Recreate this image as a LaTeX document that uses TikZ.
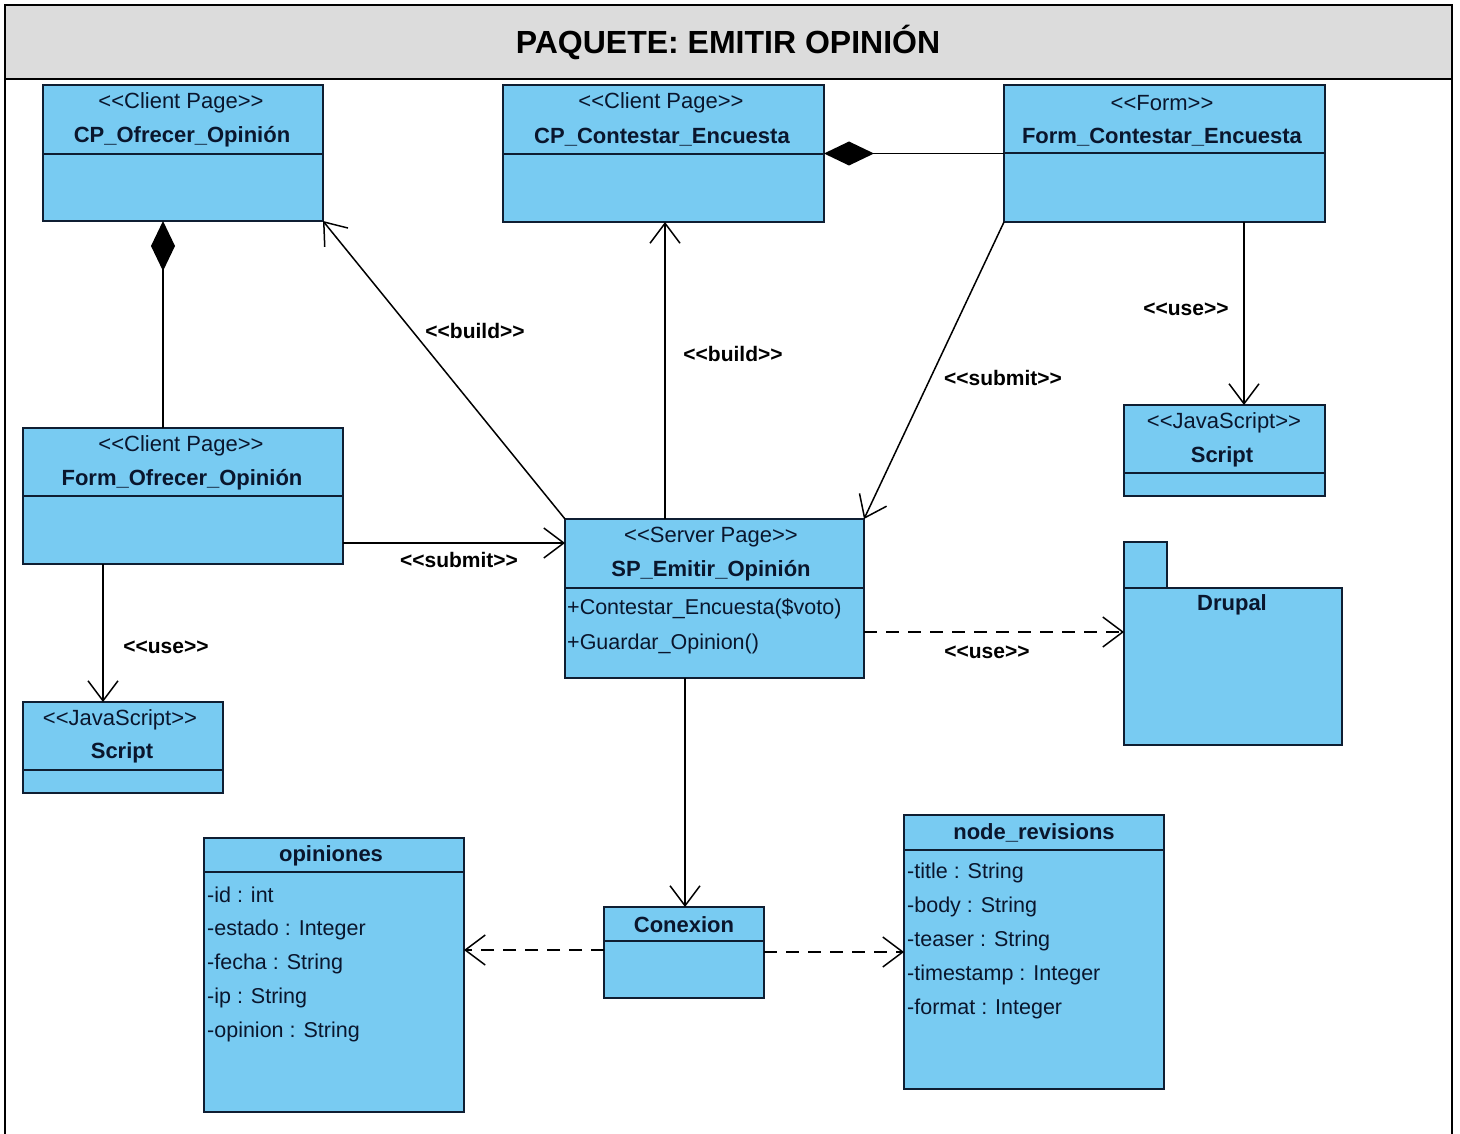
\documentclass[tikz,border=0pt]{standalone}
\usepackage{fontspec}
\setmainfont{Liberation Sans}
\usetikzlibrary{arrows.meta}
\definecolor{boxblue}{RGB}{120,203,242}
\definecolor{edgec}{RGB}{15,30,50}
\definecolor{txtc}{RGB}{10,22,45}
\definecolor{titlegray}{RGB}{220,220,220}
\newcommand{\umlL}{<\kern0pt<}
\newcommand{\umlR}{>\kern0pt>}
\begin{document}
\begin{tikzpicture}[x=1pt,y=-1pt,
  box/.style={draw=edgec, fill=boxblue, line width=1.6pt, inner sep=0pt, outer sep=0pt, anchor=north west},
  divl/.style={draw=edgec, line width=1.6pt},
  ster/.style={font=\fontsize{22}{24}\selectfont, text=txtc, inner sep=0pt},
  nm/.style={font=\bfseries\fontsize{22}{24}\selectfont, text=txtc, inner sep=0pt},
  attr/.style={font=\fontsize{21.5}{24}\selectfont, text=txtc, anchor=west, inner sep=0pt},
  lbl/.style={font=\bfseries\fontsize{21}{23}\selectfont, text=black, inner sep=0pt},
  conn/.style={line width=1.5pt, draw=black},
  openarr/.style={-{Straight Barb[length=20pt,width=30pt]}},
  dashd/.style={dash pattern=on 13pt off 9pt},
  comp/.style={{Diamond[length=50pt,width=24pt]}-}
]
\useasboundingbox (0,0) rectangle (1460,1134);
\fill[white] (0,0) rectangle (1460,1134);
% frame and title
\fill[titlegray] (5,5) rectangle (1452,79);
\draw[line width=2.2pt] (5,1134) -- (5,5) -- (1452,5) -- (1452,1134);
\draw[line width=2.2pt] (5,79) -- (1452,79);
\node[font=\bfseries\fontsize{32}{35}\selectfont] (title) at (728,42) {PAQUETE: EMITIR OPINIÓN};

% boxes
\node[box, minimum width=280pt, minimum height=136pt] (cpo) at (43,85) {};
\draw[divl] (43,154) -- (323,154);
\node[ster] at (181,103) {\umlL Client Page\umlR};
\node[nm] at (182,137) {CP\_Ofrecer\_Opinión};

\node[box, minimum width=321pt, minimum height=137pt] (cpc) at (503,85) {};
\draw[divl] (503,154) -- (824,154);
\node[ster] at (661,103) {\umlL Client Page\umlR};
\node[nm] at (662,137) {CP\_Contestar\_Encuesta};

\node[box, minimum width=321pt, minimum height=137pt] (fce) at (1004,85) {};
\draw[divl] (1004,153) -- (1325,153);
\node[ster] at (1162,103) {\umlL Form\umlR};
\node[nm] at (1162,137) {Form\_Contestar\_Encuesta};

\node[box, minimum width=320pt, minimum height=136pt] (fo) at (23,428) {};
\draw[divl] (23,496) -- (343,496);
\node[ster] at (181,446) {\umlL Client Page\umlR};
\node[nm] at (182,480) {Form\_Ofrecer\_Opinión};

\node[box, minimum width=200pt, minimum height=91pt] (scl) at (23,702) {};
\draw[divl] (23,770) -- (223,770);
\node[ster] at (120,720) {\umlL JavaScript\umlR};
\node[nm] at (122,753) {Script};

\node[box, minimum width=201pt, minimum height=91pt] (scr) at (1124,405) {};
\draw[divl] (1124,473) -- (1325,473);
\node[ster] at (1224,423) {\umlL JavaScript\umlR};
\node[nm] at (1222,457) {Script};

\node[box, minimum width=299pt, minimum height=159pt] (sp) at (565,519) {};
\draw[divl] (565,588) -- (864,588);
\node[ster] at (711,537) {\umlL Server Page\umlR};
\node[nm] at (711,571) {SP\_Emitir\_Opinión};
\node[attr] at (567,609) {+Contestar\_Encuesta(\$voto)};
\node[attr] at (567,644) {+Guardar\_Opinion()};

\node[box, minimum width=43pt, minimum height=46pt] (dtab) at (1124,542) {};
\node[box, minimum width=218pt, minimum height=157pt] (drupal) at (1124,588) {};
\node[nm] at (1232,605) {Drupal};

\node[box, minimum width=260pt, minimum height=274pt] (opi) at (204,838) {};
\draw[divl] (204,872) -- (464,872);
\node[nm] at (331,856) {opiniones};
\node[attr] at (207,895) {-id : int};
\node[attr] at (207,930) {-estado : Integer};
\node[attr] at (207,964) {-fecha : String};
\node[attr] at (207,998) {-ip : String};
\node[attr] at (207,1032) {-opinion : String};

\node[box, minimum width=160pt, minimum height=91pt] (con) at (604,907) {};
\draw[divl] (604,941) -- (764,941);
\node[nm] at (684,925) {Conexion};

\node[box, minimum width=260pt, minimum height=274pt] (nr) at (904,815) {};
\draw[divl] (904,850) -- (1164,850);
\node[nm] at (1034,833) {node\_revisions};
\node[attr] at (907,873) {-title : String};
\node[attr] at (907,907) {-body : String};
\node[attr] at (907,941) {-teaser : String};
\node[attr] at (907,975) {-timestamp : Integer};
\node[attr] at (907,1009) {-format : Integer};

% connectors
\draw[conn, comp] ([xshift=120pt]cpo.south west) -- ([xshift=140pt]fo.north west);
\draw[conn, comp] (cpc.east) -- (fce.west);
\draw[conn, openarr] (sp.north west) -- (cpo.south east);
\draw[conn, openarr] ([xshift=100pt]sp.north west) -- ([xshift=162pt]cpc.south west);
\draw[conn, openarr] (fce.south west) -- (sp.north east);
\draw[conn, openarr] ([xshift=240pt]fce.south west) -- ([xshift=120pt]scr.north west);
\draw[conn, openarr] ([yshift=21pt]fo.south east) -- ([yshift=-24pt]sp.north west);
\draw[conn, openarr] ([xshift=80pt]fo.south west) -- ([xshift=80pt]scl.north west);
\draw[conn, openarr, dashd] ([yshift=46pt]sp.south east) -- ([yshift=-44pt]drupal.north west);
\draw[conn, openarr] ([xshift=120pt]sp.south west) -- ([xshift=81pt]con.north west);
\draw[conn, openarr, dashd] ([yshift=48pt]con.south west) -- ([yshift=-112pt]opi.north east);
\draw[conn, openarr, dashd] ([yshift=46pt]con.south east) -- ([yshift=-137pt]nr.north west);

% labels
\node[lbl] at (475,331) {\umlL build\umlR};
\node[lbl] at (733,354) {\umlL build\umlR};
\node[lbl] at (1003,378) {\umlL submit\umlR};
\node[lbl] at (1186,309) {\umlL use\umlR};
\node[lbl] at (459,560) {\umlL submit\umlR};
\node[lbl] at (166,647) {\umlL use\umlR};
\node[lbl] at (987,652) {\umlL use\umlR};
\end{tikzpicture}
\end{document}
